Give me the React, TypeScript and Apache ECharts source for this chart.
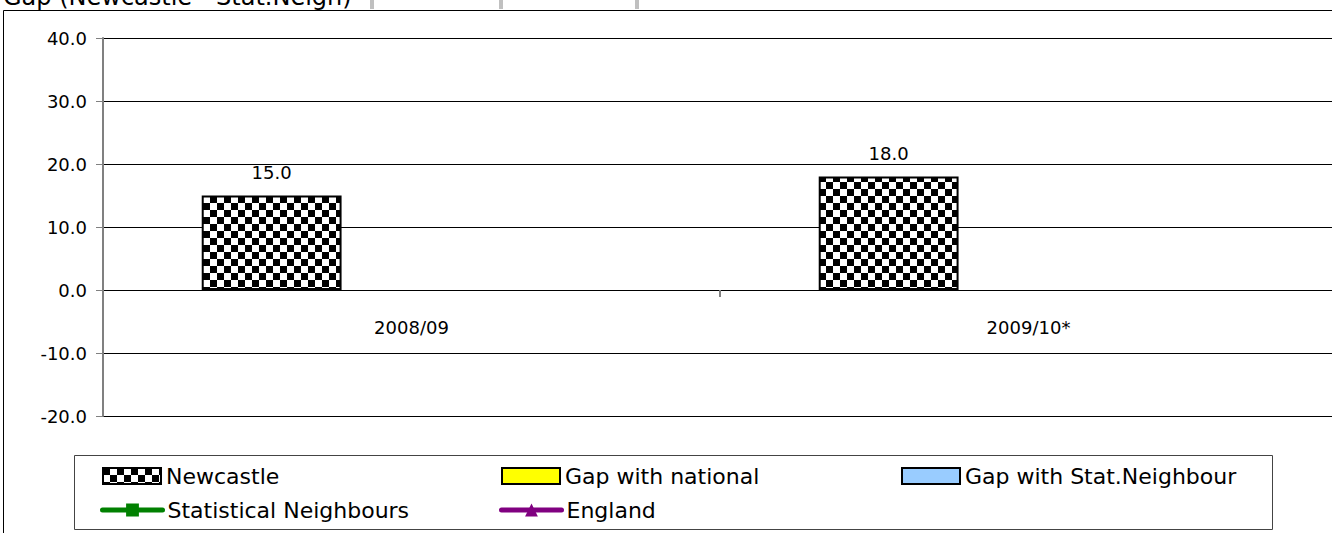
import React, { useEffect, useRef } from 'react';
import * as echarts from 'echarts';

const categories = ['2008/09', '2009/10*'];
const newcastle = [15.0, 18.0];
const gapWithNational: (number | null)[] = [null, null];
const gapWithStatNeighbour: (number | null)[] = [null, null];
const statisticalNeighbours: (number | null)[] = [null, null];
const england: (number | null)[] = [null, null];
const yMin = -20;
const yMax = 40;
const yInterval = 10;
const headerText = 'Gap (Newcastle - Stat.Neigh)';

const FONT = 'DejaVu Sans';

function makeChecker(): HTMLCanvasElement {
  const c = document.createElement('canvas');
  c.width = 14;
  c.height = 14;
  const ctx = c.getContext('2d')!;
  ctx.fillStyle = '#ffffff';
  ctx.fillRect(0, 0, 14, 14);
  ctx.fillStyle = '#000000';
  ctx.fillRect(0, 0, 7, 7);
  ctx.fillRect(7, 7, 7, 7);
  return c;
}

export default function App() {
  const ref = useRef<HTMLDivElement>(null);

  useEffect(() => {
    if (!ref.current) return;
    const chart = echarts.init(ref.current, undefined, { renderer: 'svg' });
    const checker = makeChecker();
    const checkerFill: any = { image: checker, repeat: 'repeat', imageWidth: 14, imageHeight: 14 };

    const legendCommon = {
      orient: 'horizontal',
      padding: 0,
      itemGap: 0,
      itemWidth: 58,
      itemHeight: 16,
      selectedMode: false,
      textStyle: { fontSize: 22, fontFamily: FONT, color: '#000' },
    };

    const gridTop = 38;
    const gridBottomPx = 416;
    const plotH = gridBottomPx - gridTop;
    const zeroY = gridTop + ((yMax - 0) / (yMax - yMin)) * plotH;
    const xOffset = -(gridBottomPx - zeroY);

    const option: any = {
      animation: false,
      backgroundColor: '#ffffff',
      textStyle: { fontFamily: FONT },
      grid: { left: 103, top: gridTop, right: 3, bottom: 533 - gridBottomPx, containLabel: false },
      legend: [
        { ...legendCommon, data: [{ name: 'Newcastle', icon: 'rect' }], left: 102, top: 465 },
        { ...legendCommon, data: [{ name: 'Gap with national', icon: 'rect' }], left: 501, top: 465 },
        { ...legendCommon, data: [{ name: 'Gap with Stat.Neighbour', icon: 'rect' }], left: 901, top: 465 },
        {
          ...legendCommon,
          data: ['Statistical Neighbours'],
          left: 100,
          top: 499,
          itemWidth: 60,
          lineStyle: { width: 5, cap: 'round', color: '#008000' },
        },
        {
          ...legendCommon,
          data: ['England'],
          left: 499,
          top: 499,
          itemWidth: 60,
          lineStyle: { width: 5, cap: 'round', color: '#800080' },
        },
      ],
      xAxis: {
        type: 'category',
        data: categories,
        boundaryGap: true,
        offset: xOffset,
        axisLine: { show: true, onZero: false, lineStyle: { color: '#000', width: 1 } },
        axisTick: { show: true, length: 7, lineStyle: { color: '#808080', width: 2 } },
        axisLabel: { margin: 28, fontSize: 18, fontFamily: FONT, color: '#000' },
        splitLine: { show: false },
      },
      yAxis: {
        type: 'value',
        min: yMin,
        max: yMax,
        interval: yInterval,
        axisLine: { show: true, lineStyle: { color: '#808080', width: 2 } },
        axisTick: { show: true, inside: false, length: 7, lineStyle: { color: '#808080', width: 1 } },
        axisLabel: {
          margin: 16,
          fontSize: 18,
          fontFamily: FONT,
          color: '#000',
          formatter: (v: number) => v.toFixed(1),
        },
        splitLine: { show: true, lineStyle: { color: '#000', width: 1 } },
      },
      series: [
        {
          name: 'Newcastle',
          type: 'bar',
          data: newcastle,
          barGap: '0%',
          barCategoryGap: '32%',
          itemStyle: { color: checkerFill, borderColor: '#000', borderWidth: 2 },
          label: {
            show: true,
            position: 'top',
            distance: 14,
            fontSize: 18,
            fontFamily: FONT,
            color: '#000',
            formatter: (p: any) => Number(p.value).toFixed(1),
          },
        },
        {
          name: 'Gap with national',
          type: 'bar',
          data: gapWithNational,
          barGap: '0%',
          barCategoryGap: '32%',
          itemStyle: { color: '#FFFF00', borderColor: '#000', borderWidth: 2 },
        },
        {
          name: 'Gap with Stat.Neighbour',
          type: 'bar',
          data: gapWithStatNeighbour,
          barGap: '0%',
          barCategoryGap: '32%',
          itemStyle: { color: '#99CCFF', borderColor: '#000', borderWidth: 2 },
        },
        {
          name: 'Statistical Neighbours',
          type: 'line',
          data: statisticalNeighbours,
          symbol: 'rect',
          symbolSize: 12,
          itemStyle: { color: '#008000' },
          lineStyle: { color: '#008000', width: 5, cap: 'round' },
        },
        {
          name: 'England',
          type: 'line',
          data: england,
          symbol: 'triangle',
          symbolSize: 13,
          itemStyle: { color: '#800080' },
          lineStyle: { color: '#800080', width: 5, cap: 'round' },
        },
      ],
      graphic: [
        {
          type: 'rect',
          silent: true,
          z: 100,
          shape: { x: 3.5, y: 10.5, width: 1340, height: 540 },
          style: { fill: 'none', stroke: '#000', lineWidth: 1 },
        },
        {
          type: 'rect',
          silent: true,
          z: 100,
          shape: { x: 74.5, y: 455.5, width: 1198, height: 74 },
          style: { fill: 'none', stroke: '#444', lineWidth: 1 },
        },
        {
          type: 'text',
          silent: true,
          z: 100,
          x: 3,
          y: 9,
          style: {
            text: headerText,
            fontSize: 24,
            fontFamily: FONT,
            fill: '#000',
            align: 'left',
            verticalAlign: 'bottom',
          },
        },
        { type: 'rect', silent: true, z: 100, shape: { x: 370, y: 0, width: 4, height: 9 }, style: { fill: '#c0c0c0' } },
        { type: 'rect', silent: true, z: 100, shape: { x: 499, y: 0, width: 4, height: 9 }, style: { fill: '#c0c0c0' } },
        { type: 'rect', silent: true, z: 100, shape: { x: 635, y: 0, width: 4, height: 9 }, style: { fill: '#c0c0c0' } },
      ],
    };

    chart.setOption(option);
    return () => {
      chart.dispose();
    };
  }, []);

  return (
    <div
      ref={ref}
      style={{ position: 'fixed', left: 0, top: 0, width: 1340, height: 533, background: '#fff' }}
    />
  );
}
